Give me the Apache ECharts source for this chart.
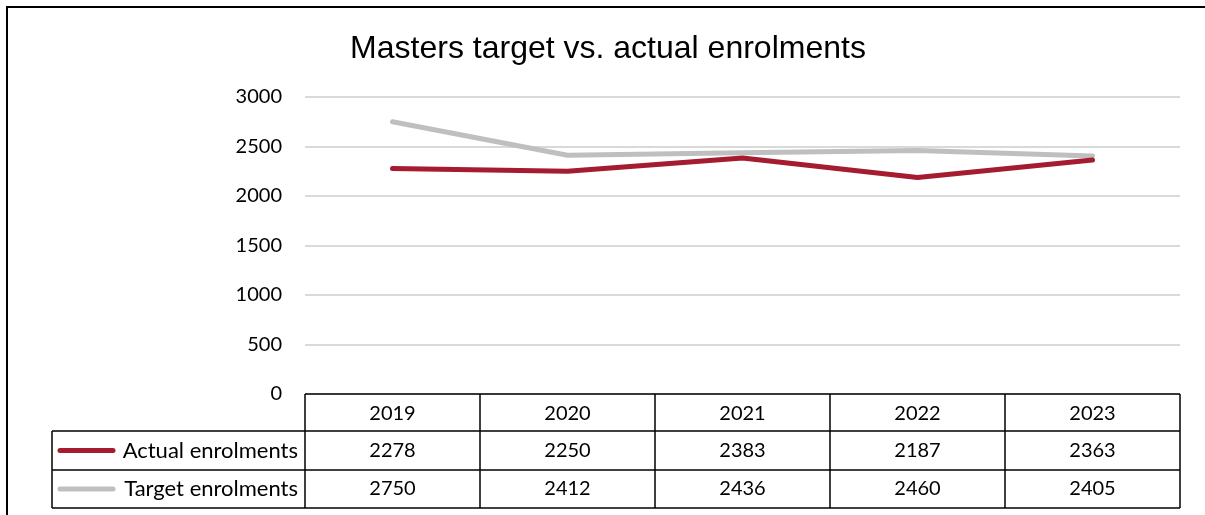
<!DOCTYPE html>
<html>
<head>
<meta charset="utf-8">
<script src="https://cdn.jsdelivr.net/npm/echarts@6/dist/echarts.min.js"></script>
<style>
  html, body { margin: 0; padding: 0; background: #fff; }
  #chart { width: 1205px; height: 515px; }
</style>
</head>
<body>
<div id="chart"></div>
<script>
// Masters enrolments, target vs. actual
const years = ['2019', '2020', '2021', '2022', '2023'];
const actual = [2278, 2250, 2383, 2187, 2363];
const target = [2750, 2412, 2436, 2460, 2405];
const yTicks = { min: 0, max: 3000, interval: 500 };

const RED = '#A51C30';
const GREY = '#BFBFBF';
const FONT = 'Lato, "Noto Sans", sans-serif';
const FONT_SIZE = 20;

const GRID = { left: 305, right: 25, top: 97, bottom: 121 };
const ROW_H = [37, 39, 38];
const LEGEND_LEFT = 52;

const chart = echarts.init(document.getElementById('chart'), null, { renderer: 'canvas' });

const option = {
  animation: false,
  backgroundColor: '#fff',
  title: {
    text: 'Masters target vs. actual enrolments',
    left: 603,
    top: 28,
    textAlign: 'center',
    textStyle: { fontFamily: '"Liberation Sans", Arial, sans-serif', fontWeight: 'normal', fontSize: 32, color: '#000' }
  },
  grid: GRID,
  xAxis: {
    type: 'category',
    data: years,
    boundaryGap: true,
    axisLine: { show: false },
    axisTick: { show: false },
    axisLabel: { show: false },
    splitLine: { show: false }
  },
  yAxis: {
    type: 'value',
    min: yTicks.min,
    max: yTicks.max,
    interval: yTicks.interval,
    axisLine: { show: false },
    axisTick: { show: false },
    axisLabel: { margin: 23, fontFamily: FONT, fontSize: FONT_SIZE, color: '#000', formatter: v => String(v) },
    splitLine: { lineStyle: { color: '#D9D9D9', width: 2 } }
  },
  series: [
    {
      name: 'Target enrolments',
      type: 'line',
      data: target,
      symbol: 'none',
      lineStyle: { color: GREY, width: 5, cap: 'round', join: 'round' },
      z: 2
    },
    {
      name: 'Actual enrolments',
      type: 'line',
      data: actual,
      symbol: 'none',
      lineStyle: { color: RED, width: 5, cap: 'round', join: 'round' },
      z: 3
    }
  ]
};
chart.setOption(option);

// Data table under the plot area, laid out from the category axis
function buildTable() {
  const W = chart.getWidth();
  const H = chart.getHeight();
  const gx0 = GRID.left;
  const gx1 = W - GRID.right;
  const y0 = chart.convertToPixel({ yAxisIndex: 0 }, 0);
  const colW = (gx1 - gx0) / years.length;
  const rows = [y0, y0 + ROW_H[0], y0 + ROW_H[0] + ROW_H[1], y0 + ROW_H[0] + ROW_H[1] + ROW_H[2]];
  const els = [];
  const line = (x1, y1, x2, y2) => ({
    type: 'line', shape: { x1, y1, x2, y2 },
    style: { stroke: '#000', lineWidth: 1.5 }, z: 10
  });
  const text = (x, y, s, align, size) => ({
    type: 'text', x, y,
    style: { text: s, fill: '#000', font: (size || FONT_SIZE) + 'px ' + FONT, align: align || 'center', verticalAlign: 'middle' },
    z: 11
  });

  // outer frame
  els.push({ type: 'rect', shape: { x: 7, y: 7, width: W + 10, height: H + 10 },
    style: { fill: 'none', stroke: '#000', lineWidth: 2 }, z: 10 });

  // horizontal rules
  els.push(line(gx0, rows[0], gx1, rows[0]));
  els.push(line(LEGEND_LEFT, rows[1], gx1, rows[1]));
  els.push(line(LEGEND_LEFT, rows[2], gx1, rows[2]));
  els.push(line(LEGEND_LEFT, rows[3], gx1, rows[3]));
  // vertical rules
  els.push(line(LEGEND_LEFT, rows[1], LEGEND_LEFT, rows[3]));
  for (let i = 0; i <= years.length; i++) {
    const x = gx0 + i * colW;
    els.push(line(x, rows[0], x, rows[3]));
  }

  // cell contents
  const seriesRows = [
    { name: 'Actual enrolments', color: RED, values: actual },
    { name: 'Target enrolments', color: GREY, values: target }
  ];
  years.forEach((yr, i) => {
    const cx = chart.convertToPixel({ xAxisIndex: 0 }, yr);
    els.push(text(cx, (rows[0] + rows[1]) / 2 + 1, yr));
    seriesRows.forEach((s, r) => {
      els.push(text(cx, (rows[r + 1] + rows[r + 2]) / 2, String(s.values[i])));
    });
  });
  seriesRows.forEach((s, r) => {
    const cy = (rows[r + 1] + rows[r + 2]) / 2;
    els.push({ type: 'line', shape: { x1: 60, y1: cy, x2: 113, y2: cy },
      style: { stroke: s.color, lineWidth: 5, lineCap: 'round' }, z: 11 });
    els.push(text(298, cy, s.name, 'right', 22));
  });

  chart.setOption({ graphic: { elements: els } });
}
buildTable();
</script>
</body>
</html>
